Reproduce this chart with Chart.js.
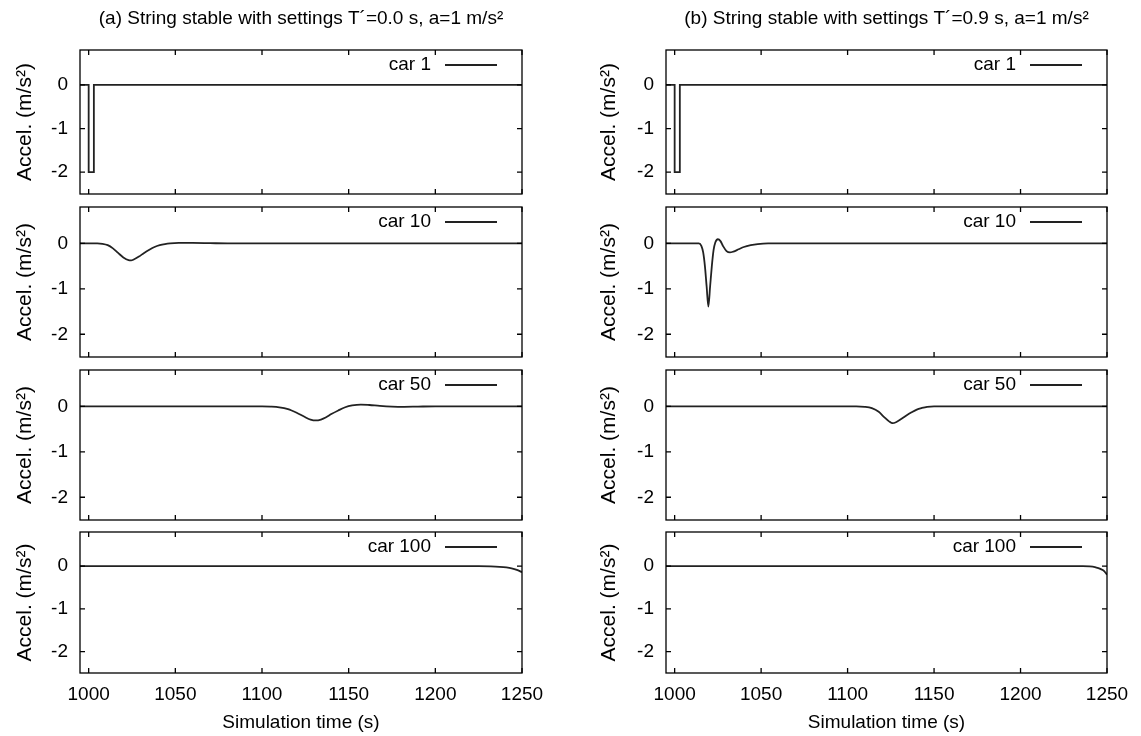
<!DOCTYPE html>
<html>
<head>
<meta charset="utf-8">
<script src="https://cdn.jsdelivr.net/npm/chart.js@4.4.0/dist/chart.umd.min.js"></script>
<style>
  body { margin: 0; background: #fff; }
  #wrap { position: relative; width: 1141px; height: 736px; overflow: hidden; background: #fff; }
  canvas { position: absolute; }
</style>
</head>
<body>
<div id="wrap"></div>
<script>
// ===== DADOS =====
const xTicks = [1000, 1050, 1100, 1150, 1200, 1250];
const yTicks = [-2, -1, 0];
const titulos = ['(a) String stable with settings T´=0.0 s, a=1 m/s²', '(b) String stable with settings T´=0.9 s, a=1 m/s²'];
const carros = ['car 1', 'car 10', 'car 50', 'car 100'];

// car 1 (igual nas duas colunas)
const car1T = [995, 1000, 1000, 1003, 1003, 1250];
const car1A = [0, 0, -2, -2, 0, 0];

// coluna (a) T'=0.0 s
const car10aT = [995, 1005, 1008, 1011, 1014, 1017, 1020, 1023, 1024.5, 1026, 1029, 1032, 1035, 1038, 1041, 1044, 1047, 1052, 1060, 1070, 1080, 1250];
const car10aA = [0, 0, -0.01, -0.04, -0.11, -0.21, -0.31, -0.37, -0.375, -0.355, -0.29, -0.21, -0.14, -0.08, -0.04, -0.015, 0, 0.01, 0.01, 0.005, 0, 0];
const car50aT = [995, 1100, 1105, 1110, 1115, 1120, 1125, 1128, 1131, 1134, 1137, 1140, 1144, 1148, 1152, 1157, 1162, 1168, 1175, 1182, 1190, 1200, 1250];
const car50aA = [0, 0, -0.005, -0.02, -0.06, -0.14, -0.24, -0.29, -0.31, -0.29, -0.24, -0.17, -0.09, -0.02, 0.02, 0.04, 0.03, 0.01, -0.005, -0.01, -0.005, 0, 0];
const car100aT = [995, 1225, 1232, 1237, 1241, 1244, 1247, 1250];
const car100aA = [0, 0, -0.005, -0.015, -0.03, -0.05, -0.085, -0.14];

// coluna (b) T'=0.9 s
const car10bT = [995, 1014, 1015.5, 1016.5, 1017.5, 1018.5, 1019.5, 1020.5, 1021.5, 1022.5, 1023.5, 1025, 1026.5, 1028, 1030, 1032, 1034, 1037, 1040, 1044, 1048, 1054, 1250];
const car10bA = [0, 0, -0.06, -0.2, -0.5, -0.95, -1.39, -0.95, -0.5, -0.15, 0.02, 0.09, 0.05, -0.06, -0.17, -0.2, -0.18, -0.13, -0.08, -0.04, -0.015, 0, 0];
const car50bT = [995, 1105, 1110, 1114, 1118, 1121, 1124, 1126, 1128, 1131, 1134, 1137, 1140, 1143, 1146, 1150, 1250];
const car50bA = [0, 0, -0.01, -0.04, -0.12, -0.23, -0.33, -0.37, -0.35, -0.28, -0.2, -0.13, -0.07, -0.035, -0.01, 0, 0];
const car100bT = [995, 1236, 1240, 1243, 1245, 1247, 1248.5, 1250];
const car100bA = [0, 0, -0.005, -0.02, -0.045, -0.08, -0.12, -0.2];

const series = [
  [[car1T, car1A], [car10aT, car10aA], [car50aT, car50aA], [car100aT, car100aA]],
  [[car1T, car1A], [car10bT, car10bA], [car50bT, car50bA], [car100bT, car100bA]]
];

// ===== LAYOUT =====
const FONTE = '"Liberation Sans", Arial, Helvetica, sans-serif';
const colunas = [
  { left: 0, width: 560, plotL: 80, plotR: 522, tituloY: 13 },
  { left: 560, width: 581, plotL: 666, plotR: 1107, tituloY: 37 }
];
const linhasTop = [50, 207, 370, 532];
const linhasBottom = [194, 357, 520, 673];
const ALTURA = 736;

// moldura com ticks para dentro (estilo gnuplot) + legenda "texto ——"
const moldura = {
  id: 'moldura',
  afterDatasetsDraw(chart) {
    const { ctx, chartArea: a, scales: { x, y } } = chart;
    ctx.save();
    ctx.strokeStyle = '#000';
    ctx.lineWidth = 1.3;
    ctx.strokeRect(a.left, a.top, a.right - a.left, a.bottom - a.top);
    ctx.beginPath();
    xTicks.forEach(v => {
      const px = x.getPixelForValue(v);
      ctx.moveTo(px, a.bottom); ctx.lineTo(px, a.bottom - 5);
      ctx.moveTo(px, a.top); ctx.lineTo(px, a.top + 5);
    });
    yTicks.forEach(v => {
      const py = y.getPixelForValue(v);
      ctx.moveTo(a.left, py); ctx.lineTo(a.left + 5, py);
      ctx.moveTo(a.right, py); ctx.lineTo(a.right - 5, py);
    });
    ctx.stroke();

    const ds = chart.data.datasets[0];
    const ly = a.top + 15;
    ctx.font = '19px ' + FONTE;
    ctx.fillStyle = '#000';
    ctx.textAlign = 'right';
    ctx.textBaseline = 'middle';
    ctx.fillText(ds.label, a.right - 91, ly);
    ctx.beginPath();
    ctx.strokeStyle = ds.borderColor;
    ctx.lineWidth = ds.borderWidth;
    ctx.moveTo(a.right - 77, ly);
    ctx.lineTo(a.right - 25, ly);
    ctx.stroke();
    ctx.restore();
  }
};

function criarPainel(c, r) {
  const col = colunas[c];
  const primeira = r === 0;
  const ultima = r === 3;
  const top = primeira ? 0 : linhasTop[r] - 3;
  const bottom = ultima ? ALTURA : linhasBottom[r] + 3;

  const canvas = document.createElement('canvas');
  canvas.width = col.width;
  canvas.height = bottom - top;
  canvas.style.left = col.left + 'px';
  canvas.style.top = top + 'px';
  document.getElementById('wrap').appendChild(canvas);

  const [tempos, acel] = series[c][r];
  const pontos = tempos.map((t, i) => ({ x: t, y: acel[i] }));

  const eixoX = {
    type: 'linear',
    min: 995,
    max: 1250,
    display: ultima,
    afterBuildTicks: s => { s.ticks = xTicks.map(v => ({ value: v })); },
    grid: { display: false, drawTicks: false },
    border: { display: false },
    ticks: { color: '#000', padding: 10, maxRotation: 0, font: { family: FONTE, size: 19 }, callback: v => String(v) },
    title: {
      display: true,
      text: 'Simulation time (s)',
      color: '#000',
      font: { family: FONTE, size: 19 },
      padding: { top: 0, bottom: 2 }
    }
  };
  if (ultima) eixoX.afterFit = s => { s.height = ALTURA - linhasBottom[3]; };

  new Chart(canvas, {
    type: 'line',
    data: {
      datasets: [{
        label: carros[r],
        data: pontos,
        borderColor: '#222',
        borderWidth: 1.8,
        pointRadius: 0,
        fill: false,
        tension: r === 0 ? 0 : 0.4,
        cubicInterpolationMode: r === 0 ? 'default' : 'monotone',
        borderJoinStyle: 'miter'
      }]
    },
    options: {
      responsive: false,
      animation: false,
      devicePixelRatio: 1,
      layout: {
        padding: {
          left: 0,
          right: col.left + col.width - col.plotR,
          top: primeira ? 0 : 3,
          bottom: ultima ? 0 : 3
        }
      },
      plugins: {
        legend: { display: false },
        tooltip: { enabled: false },
        title: {
          display: primeira,
          text: titulos[c],
          fullSize: false,
          color: '#000',
          font: { family: FONTE, size: 19, weight: 'normal' },
          padding: { top: 7, bottom: 50 - 7 - 22.8 }
        }
      },
      scales: {
        x: eixoX,
        y: {
          min: -2.5,
          max: 0.8,
          afterBuildTicks: s => { s.ticks = yTicks.map(v => ({ value: v })); },
          afterFit: s => {
            s.width = col.plotL - col.left;
            s.paddingTop = 0; // os rótulos ficam dentro da faixa, não precisa reservar espaço
            s.paddingBottom = 0;
          },
          grid: { display: false, drawTicks: false },
          border: { display: false },
          ticks: { color: '#000', padding: 12, font: { family: FONTE, size: 19 } },
          title: {
            display: true,
            text: 'Accel. (m/s²)',
            color: '#000',
            font: { family: FONTE, size: 21 },
            padding: { top: col.tituloY, bottom: 0 }
          }
        }
      }
    },
    plugins: [moldura]
  });
}

for (let c = 0; c < 2; c++) {
  for (let r = 0; r < 4; r++) criarPainel(c, r);
}
</script>
</body>
</html>
